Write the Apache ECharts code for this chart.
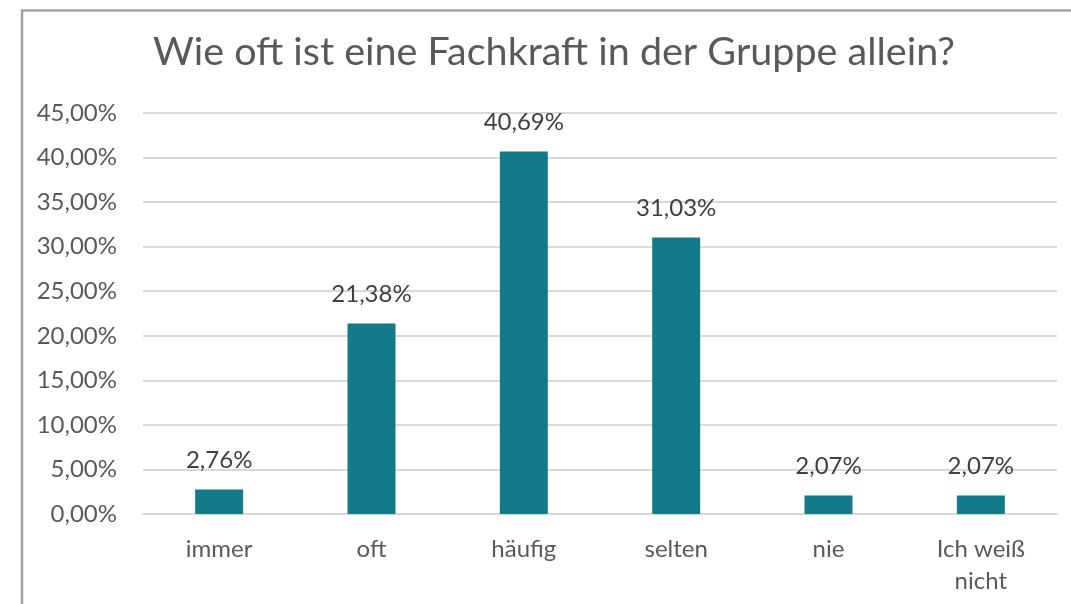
<!DOCTYPE html>
<html>
<head>
<meta charset="utf-8">
<script src="https://cdn.jsdelivr.net/npm/echarts@6/dist/echarts.min.js"></script>
<style>
  html, body { margin: 0; padding: 0; background: #fff; }
  #chart { width: 1071px; height: 604px; }
</style>
</head>
<body>
<div id="chart"></div>
<script>
// Kategorien und Anteile (in Prozent)
const categories = ["immer", "oft", "häufig", "selten", "nie", "Ich weiß\nnicht"];
const values = [2.76, 21.38, 40.69, 31.03, 2.07, 2.07];
const titleText = "Wie oft ist eine Fachkraft in der Gruppe allein?";

const textColor = "#595959";
const barColor = "#137a89";
const fontFamily = "Lato, 'Open Sans', sans-serif";

function pct(v) {
  return v.toFixed(2).replace(".", ",") + "%";
}

var chart = echarts.init(document.getElementById("chart"));
var option = {
  backgroundColor: "#fff",
  animation: false,
  title: {
    text: titleText,
    left: 549,
    textAlign: "center",
    top: 27,
    textStyle: {
      color: textColor,
      fontFamily: fontFamily,
      fontSize: 39.5,
      fontWeight: "normal",
    },
  },
  graphic: [
    {
      type: "polyline",
      shape: { points: [[22, 604], [22, 10.5], [1071, 10.5]] },
      style: { stroke: "#a3a3a3", lineWidth: 2.5, fill: null },
    },
  ],
  grid: {
    left: 143,
    right: 14,
    top: 113,
    bottom: 90,
    outerBoundsMode: "none",
  },
  xAxis: {
    type: "category",
    data: categories,
    axisTick: { show: false },
    axisLine: { show: true, lineStyle: { color: "#d9d9d9", width: 2 } },
    axisLabel: {
      color: textColor,
      fontFamily: fontFamily,
      fontSize: 24,
      lineHeight: 32,
      margin: 19,
      interval: 0,
    },
  },
  yAxis: {
    type: "value",
    min: 0,
    max: 45,
    interval: 5,
    axisLine: { show: false },
    axisTick: { show: false },
    splitLine: { lineStyle: { color: "#d9d9d9", width: 2 } },
    axisLabel: {
      color: textColor,
      fontFamily: fontFamily,
      fontSize: 24,
      margin: 26,
      formatter: function (v) {
        return pct(v);
      },
    },
  },
  series: [
    {
      type: "bar",
      data: values,
      barWidth: "31.5%",
      itemStyle: { color: barColor },
      label: {
        show: true,
        position: "top",
        distance: 17,
        color: "#404040",
        fontFamily: fontFamily,
        fontSize: 24,
        formatter: function (p) {
          return pct(p.value);
        },
      },
    },
  ],
};
chart.setOption(option);
</script>
</body>
</html>
